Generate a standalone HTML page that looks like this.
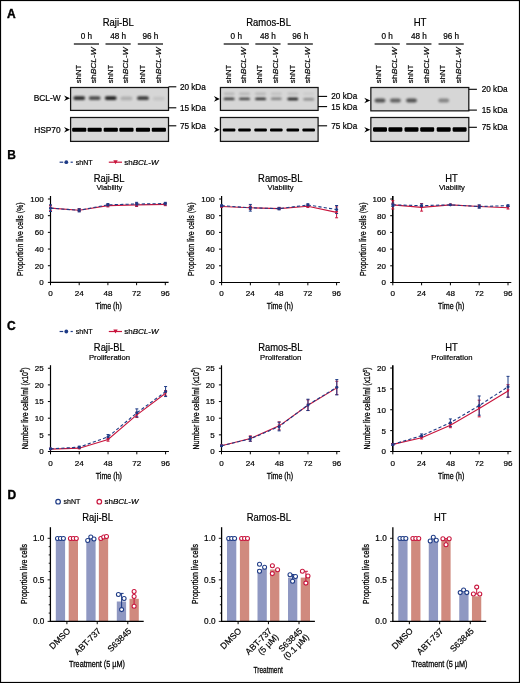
<!DOCTYPE html>
<html><head><meta charset="utf-8"><style>
html,body{margin:0;padding:0;background:#fff;}
body{width:520px;height:683px;position:relative;overflow:hidden;font-family:"Liberation Sans", sans-serif;}
svg text{stroke:#000;stroke-width:0.2px;}
svg text.cd{stroke-width:0.28px;}
svg{filter:blur(0.3px);}
</style></head><body>
<svg width="520" height="683" viewBox="0 0 520 683" style="position:absolute;left:0;top:0">
<defs><filter id="bl" x="-50%" y="-100%" width="200%" height="300%"><feGaussianBlur stdDeviation="0.8"/></filter><filter id="bl2" x="-50%" y="-100%" width="200%" height="300%"><feGaussianBlur stdDeviation="0.6"/></filter></defs>
<g font-family='"Liberation Sans", sans-serif' fill="#000">
<rect x="0.5" y="0.5" width="519" height="682" fill="#fff" stroke="#000" stroke-width="1.2"/>
<text x="7.00" y="17.80" font-size="12" text-anchor="start" font-weight="bold"  style="stroke-width:0.4px">A</text>
<text x="60.70" y="101.10" font-size="8.4" text-anchor="end" font-weight="normal"  style="">BCL-W</text>
<text x="60.70" y="132.50" font-size="8.4" text-anchor="end" font-weight="normal"  style="">HSP70</text>
<text x="118.30" y="25.90" font-size="10.1" text-anchor="middle" font-weight="normal" textLength="31.10" lengthAdjust="spacingAndGlyphs" style="">Raji-BL</text>
<text x="86.45" y="38.60" font-size="8.2" text-anchor="middle" font-weight="normal"  style="">0 h</text>
<line x1="73.85" y1="44.00" x2="99.05" y2="44.00" stroke="#000" stroke-width="1.2" />
<text x="118.10" y="38.60" font-size="8.2" text-anchor="middle" font-weight="normal"  style="">48 h</text>
<line x1="105.50" y1="44.00" x2="130.70" y2="44.00" stroke="#000" stroke-width="1.2" />
<text x="150.40" y="38.60" font-size="8.2" text-anchor="middle" font-weight="normal"  style="">96 h</text>
<line x1="137.80" y1="44.00" x2="163.00" y2="44.00" stroke="#000" stroke-width="1.2" />
<text transform="translate(80.70,83.2) rotate(-90)" font-size="8.1" textLength="18.3" lengthAdjust="spacingAndGlyphs">shNT</text>
<text transform="translate(96.10,83.2) rotate(-90)" font-size="8.1" textLength="36" lengthAdjust="spacingAndGlyphs">sh<tspan font-style="italic">BCL-W</tspan></text>
<text transform="translate(112.50,83.2) rotate(-90)" font-size="8.1" textLength="18.3" lengthAdjust="spacingAndGlyphs">shNT</text>
<text transform="translate(128.00,83.2) rotate(-90)" font-size="8.1" textLength="36" lengthAdjust="spacingAndGlyphs">sh<tspan font-style="italic">BCL-W</tspan></text>
<text transform="translate(144.70,83.2) rotate(-90)" font-size="8.1" textLength="18.3" lengthAdjust="spacingAndGlyphs">shNT</text>
<text transform="translate(160.50,83.2) rotate(-90)" font-size="8.1" textLength="36" lengthAdjust="spacingAndGlyphs">sh<tspan font-style="italic">BCL-W</tspan></text>
<rect x="70.60" y="87.5" width="97.90" height="22.90" fill="#d6d6d6" stroke="#151515" stroke-width="1.25"/>
<rect x="70.60" y="117.5" width="97.90" height="23.9" fill="#d9d9d9" stroke="#151515" stroke-width="1.25"/>
<rect x="73.35" y="96.20" width="11.8" height="3.8" rx="1.9" fill="#000" opacity="0.8" filter="url(#bl)"/>
<rect x="88.75" y="96.20" width="11.8" height="3.8" rx="1.9" fill="#000" opacity="0.65" filter="url(#bl)"/>
<rect x="104.85" y="96.20" width="11.8" height="3.8" rx="1.9" fill="#000" opacity="0.85" filter="url(#bl)"/>
<rect x="120.55" y="96.50" width="11.8" height="3.8" rx="1.9" fill="#000" opacity="0.18" filter="url(#bl)"/>
<rect x="137.05" y="96.30" width="11.8" height="3.8" rx="1.9" fill="#000" opacity="0.72" filter="url(#bl)"/>
<rect x="152.95" y="96.70" width="11.8" height="3.8" rx="1.9" fill="#000" opacity="0.08" filter="url(#bl)"/>
<rect x="72.15" y="127.65" width="14.2" height="4.1" rx="1.1" fill="#000" opacity="1" filter="url(#bl2)"/>
<rect x="87.55" y="127.65" width="14.2" height="4.1" rx="1.1" fill="#000" opacity="1" filter="url(#bl2)"/>
<rect x="103.65" y="127.65" width="14.2" height="4.1" rx="1.1" fill="#000" opacity="1" filter="url(#bl2)"/>
<rect x="119.35" y="127.65" width="14.2" height="4.1" rx="1.1" fill="#000" opacity="1" filter="url(#bl2)"/>
<rect x="135.85" y="127.65" width="14.2" height="4.1" rx="1.1" fill="#000" opacity="1" filter="url(#bl2)"/>
<rect x="151.75" y="127.65" width="14.2" height="4.1" rx="1.1" fill="#000" opacity="1" filter="url(#bl2)"/>
<path d="M64.00,95.40 L70.00,98.20 L64.00,101.00 L66.00,98.20 Z" fill="#000"/>
<path d="M64.00,126.90 L70.00,129.70 L64.00,132.50 L66.00,129.70 Z" fill="#000"/>
<line x1="168.50" y1="86.80" x2="176.30" y2="86.80" stroke="#000" stroke-width="1.1" />
<text x="179.90" y="89.70" font-size="8.2" text-anchor="start" font-weight="normal"  style="">20 kDa</text>
<line x1="168.50" y1="107.80" x2="176.30" y2="107.80" stroke="#000" stroke-width="1.1" />
<text x="179.90" y="110.70" font-size="8.2" text-anchor="start" font-weight="normal"  style="">15 kDa</text>
<line x1="168.50" y1="125.80" x2="176.30" y2="125.80" stroke="#000" stroke-width="1.1" />
<text x="179.90" y="128.70" font-size="8.2" text-anchor="start" font-weight="normal"  style="">75 kDa</text>
<text x="268.60" y="25.90" font-size="10.1" text-anchor="middle" font-weight="normal" textLength="44.60" lengthAdjust="spacingAndGlyphs" style="">Ramos-BL</text>
<text x="236.30" y="38.60" font-size="8.2" text-anchor="middle" font-weight="normal"  style="">0 h</text>
<line x1="223.70" y1="44.00" x2="248.90" y2="44.00" stroke="#000" stroke-width="1.2" />
<text x="267.95" y="38.60" font-size="8.2" text-anchor="middle" font-weight="normal"  style="">48 h</text>
<line x1="255.35" y1="44.00" x2="280.55" y2="44.00" stroke="#000" stroke-width="1.2" />
<text x="300.25" y="38.60" font-size="8.2" text-anchor="middle" font-weight="normal"  style="">96 h</text>
<line x1="287.65" y1="44.00" x2="312.85" y2="44.00" stroke="#000" stroke-width="1.2" />
<text transform="translate(230.55,83.2) rotate(-90)" font-size="8.1" textLength="18.3" lengthAdjust="spacingAndGlyphs">shNT</text>
<text transform="translate(245.95,83.2) rotate(-90)" font-size="8.1" textLength="36" lengthAdjust="spacingAndGlyphs">sh<tspan font-style="italic">BCL-W</tspan></text>
<text transform="translate(262.35,83.2) rotate(-90)" font-size="8.1" textLength="18.3" lengthAdjust="spacingAndGlyphs">shNT</text>
<text transform="translate(277.85,83.2) rotate(-90)" font-size="8.1" textLength="36" lengthAdjust="spacingAndGlyphs">sh<tspan font-style="italic">BCL-W</tspan></text>
<text transform="translate(294.55,83.2) rotate(-90)" font-size="8.1" textLength="18.3" lengthAdjust="spacingAndGlyphs">shNT</text>
<text transform="translate(310.35,83.2) rotate(-90)" font-size="8.1" textLength="36" lengthAdjust="spacingAndGlyphs">sh<tspan font-style="italic">BCL-W</tspan></text>
<rect x="220.45" y="87.5" width="97.65" height="22.90" fill="#d6d6d6" stroke="#151515" stroke-width="1.25"/>
<rect x="220.45" y="117.5" width="97.65" height="23.9" fill="#d9d9d9" stroke="#151515" stroke-width="1.25"/>
<rect x="223.70" y="97.70" width="10.8" height="2.4" rx="1.2" fill="#000" opacity="0.8" filter="url(#bl)"/>
<rect x="239.10" y="97.70" width="10.8" height="2.4" rx="1.2" fill="#000" opacity="0.75" filter="url(#bl)"/>
<rect x="255.20" y="97.70" width="10.8" height="2.4" rx="1.2" fill="#000" opacity="0.85" filter="url(#bl)"/>
<rect x="270.90" y="97.60" width="10.8" height="2.4" rx="1.2" fill="#000" opacity="0.4" filter="url(#bl)"/>
<rect x="287.40" y="97.80" width="10.8" height="2.4" rx="1.2" fill="#000" opacity="0.9" filter="url(#bl)"/>
<rect x="303.30" y="98.00" width="10.8" height="2.4" rx="1.2" fill="#000" opacity="0.35" filter="url(#bl)"/>
<rect x="223.70" y="92.60" width="10.8" height="2.4" rx="1.2" fill="#000" opacity="0.15" filter="url(#bl)"/>
<rect x="239.10" y="92.60" width="10.8" height="2.4" rx="1.2" fill="#000" opacity="0.15" filter="url(#bl)"/>
<rect x="255.20" y="92.60" width="10.8" height="2.4" rx="1.2" fill="#000" opacity="0.15" filter="url(#bl)"/>
<rect x="270.90" y="92.60" width="10.8" height="2.4" rx="1.2" fill="#000" opacity="0.1" filter="url(#bl)"/>
<rect x="287.40" y="92.60" width="10.8" height="2.4" rx="1.2" fill="#000" opacity="0.1" filter="url(#bl)"/>
<rect x="303.30" y="92.60" width="10.8" height="2.4" rx="1.2" fill="#000" opacity="0.05" filter="url(#bl)"/>
<rect x="222.80" y="128.50" width="12.6" height="3.0" rx="1.1" fill="#000" opacity="1" filter="url(#bl2)"/>
<rect x="238.20" y="128.50" width="12.6" height="3.0" rx="1.1" fill="#000" opacity="1" filter="url(#bl2)"/>
<rect x="254.30" y="128.50" width="12.6" height="3.0" rx="1.1" fill="#000" opacity="1" filter="url(#bl2)"/>
<rect x="270.00" y="128.50" width="12.6" height="3.0" rx="1.1" fill="#000" opacity="1" filter="url(#bl2)"/>
<rect x="286.50" y="128.50" width="12.6" height="3.0" rx="1.1" fill="#000" opacity="1" filter="url(#bl2)"/>
<rect x="302.40" y="128.50" width="12.6" height="3.0" rx="1.1" fill="#000" opacity="1" filter="url(#bl2)"/>
<path d="M213.85,96.10 L219.85,98.90 L213.85,101.70 L215.85,98.90 Z" fill="#000"/>
<path d="M213.85,126.90 L219.85,129.70 L213.85,132.50 L215.85,129.70 Z" fill="#000"/>
<line x1="318.10" y1="96.40" x2="327.10" y2="96.40" stroke="#000" stroke-width="1.1" />
<text x="331.30" y="99.30" font-size="8.2" text-anchor="start" font-weight="normal"  style="">20 kDa</text>
<line x1="318.10" y1="106.60" x2="327.10" y2="106.60" stroke="#000" stroke-width="1.1" />
<text x="331.30" y="109.50" font-size="8.2" text-anchor="start" font-weight="normal"  style="">15 kDa</text>
<line x1="318.10" y1="125.80" x2="327.10" y2="125.80" stroke="#000" stroke-width="1.1" />
<text x="331.30" y="128.70" font-size="8.2" text-anchor="start" font-weight="normal"  style="">75 kDa</text>
<text x="420.10" y="25.90" font-size="10.1" text-anchor="middle" font-weight="normal" textLength="12.80" lengthAdjust="spacingAndGlyphs" style="">HT</text>
<text x="387.20" y="38.60" font-size="8.2" text-anchor="middle" font-weight="normal"  style="">0 h</text>
<line x1="374.60" y1="44.00" x2="399.80" y2="44.00" stroke="#000" stroke-width="1.2" />
<text x="418.85" y="38.60" font-size="8.2" text-anchor="middle" font-weight="normal"  style="">48 h</text>
<line x1="406.25" y1="44.00" x2="431.45" y2="44.00" stroke="#000" stroke-width="1.2" />
<text x="451.15" y="38.60" font-size="8.2" text-anchor="middle" font-weight="normal"  style="">96 h</text>
<line x1="438.55" y1="44.00" x2="463.75" y2="44.00" stroke="#000" stroke-width="1.2" />
<text transform="translate(381.45,83.2) rotate(-90)" font-size="8.1" textLength="18.3" lengthAdjust="spacingAndGlyphs">shNT</text>
<text transform="translate(396.85,83.2) rotate(-90)" font-size="8.1" textLength="36" lengthAdjust="spacingAndGlyphs">sh<tspan font-style="italic">BCL-W</tspan></text>
<text transform="translate(413.25,83.2) rotate(-90)" font-size="8.1" textLength="18.3" lengthAdjust="spacingAndGlyphs">shNT</text>
<text transform="translate(428.75,83.2) rotate(-90)" font-size="8.1" textLength="36" lengthAdjust="spacingAndGlyphs">sh<tspan font-style="italic">BCL-W</tspan></text>
<text transform="translate(445.45,83.2) rotate(-90)" font-size="8.1" textLength="18.3" lengthAdjust="spacingAndGlyphs">shNT</text>
<text transform="translate(461.25,83.2) rotate(-90)" font-size="8.1" textLength="36" lengthAdjust="spacingAndGlyphs">sh<tspan font-style="italic">BCL-W</tspan></text>
<rect x="370.85" y="87.5" width="97.95" height="23.35" fill="#d6d6d6" stroke="#151515" stroke-width="1.25"/>
<rect x="370.85" y="117.5" width="97.95" height="23.9" fill="#d9d9d9" stroke="#151515" stroke-width="1.25"/>
<rect x="374.60" y="98.50" width="10.8" height="4.0" rx="2.0" fill="#000" opacity="0.62" filter="url(#bl)"/>
<rect x="390.00" y="98.50" width="10.8" height="4.0" rx="2.0" fill="#000" opacity="0.55" filter="url(#bl)"/>
<rect x="406.10" y="98.50" width="10.8" height="4.0" rx="2.0" fill="#000" opacity="0.62" filter="url(#bl)"/>
<rect x="438.30" y="98.50" width="10.8" height="4.0" rx="2.0" fill="#000" opacity="0.38" filter="url(#bl)"/>
<rect x="373.00" y="127.35" width="14" height="4.3" rx="1.1" fill="#000" opacity="1" filter="url(#bl2)"/>
<rect x="388.40" y="127.35" width="14" height="4.3" rx="1.1" fill="#000" opacity="1" filter="url(#bl2)"/>
<rect x="404.50" y="127.35" width="14" height="4.3" rx="1.1" fill="#000" opacity="1" filter="url(#bl2)"/>
<rect x="420.20" y="127.35" width="14" height="4.3" rx="1.1" fill="#000" opacity="1" filter="url(#bl2)"/>
<rect x="436.70" y="127.35" width="14" height="4.3" rx="1.1" fill="#000" opacity="1" filter="url(#bl2)"/>
<rect x="452.60" y="127.35" width="14" height="4.3" rx="1.1" fill="#000" opacity="1" filter="url(#bl2)"/>
<path d="M364.25,97.70 L370.25,100.50 L364.25,103.30 L366.25,100.50 Z" fill="#000"/>
<path d="M364.25,126.90 L370.25,129.70 L364.25,132.50 L366.25,129.70 Z" fill="#000"/>
<line x1="468.80" y1="89.30" x2="476.90" y2="89.30" stroke="#000" stroke-width="1.1" />
<text x="481.70" y="92.20" font-size="8.2" text-anchor="start" font-weight="normal"  style="">20 kDa</text>
<line x1="468.80" y1="110.10" x2="476.90" y2="110.10" stroke="#000" stroke-width="1.1" />
<text x="481.70" y="113.00" font-size="8.2" text-anchor="start" font-weight="normal"  style="">15 kDa</text>
<line x1="468.80" y1="127.30" x2="476.90" y2="127.30" stroke="#000" stroke-width="1.1" />
<text x="481.70" y="130.20" font-size="8.2" text-anchor="start" font-weight="normal"  style="">75 kDa</text>
<text x="7.20" y="159.20" font-size="12" text-anchor="start" font-weight="bold"  style="stroke-width:0.25px">B</text>
<line x1="59.60" y1="162.20" x2="63.20" y2="162.20" stroke="#1d3a85" stroke-width="1.2" />
<circle cx="66.3" cy="162.2" r="1.9" fill="#1d3a85"/>
<line x1="70.60" y1="162.20" x2="72.80" y2="162.20" stroke="#1d3a85" stroke-width="1.2" />
<text x="75.80" y="164.90" font-size="7.8" text-anchor="start" font-weight="normal" textLength="16.9" lengthAdjust="spacingAndGlyphs" style="">shNT</text>
<line x1="108.80" y1="162.20" x2="122.00" y2="162.20" stroke="#c8143c" stroke-width="1.2" />
<path d="M113.3,160.29999999999998 L117.7,160.29999999999998 L115.5,164.29999999999998 Z" fill="#c8143c"/>
<text x="124.30" y="164.90" font-size="7.8" text-anchor="start" font-weight="normal" textLength="34.2" lengthAdjust="spacingAndGlyphs" style="">sh<tspan font-style="italic">BCL-W</tspan></text>
<text x="7.00" y="330.00" font-size="12" text-anchor="start" font-weight="bold"  style="stroke-width:0.4px">C</text>
<line x1="59.60" y1="331.50" x2="63.20" y2="331.50" stroke="#1d3a85" stroke-width="1.2" />
<circle cx="66.3" cy="331.5" r="1.9" fill="#1d3a85"/>
<line x1="70.60" y1="331.50" x2="72.80" y2="331.50" stroke="#1d3a85" stroke-width="1.2" />
<text x="75.80" y="334.20" font-size="7.8" text-anchor="start" font-weight="normal" textLength="16.9" lengthAdjust="spacingAndGlyphs" style="">shNT</text>
<line x1="108.80" y1="331.50" x2="122.00" y2="331.50" stroke="#c8143c" stroke-width="1.2" />
<path d="M113.3,329.6 L117.7,329.6 L115.5,333.6 Z" fill="#c8143c"/>
<text x="124.30" y="334.20" font-size="7.8" text-anchor="start" font-weight="normal" textLength="34.2" lengthAdjust="spacingAndGlyphs" style="">sh<tspan font-style="italic">BCL-W</tspan></text>
<text x="109.10" y="181.60" font-size="10.3" text-anchor="middle" font-weight="normal" textLength="30.81" lengthAdjust="spacingAndGlyphs" style="">Raji-BL</text>
<text x="109.40" y="190.40" font-size="8.1" text-anchor="middle" font-weight="normal" textLength="26.0" lengthAdjust="spacingAndGlyphs" style="">Viability</text>
<line x1="50.50" y1="196.00" x2="50.50" y2="283.00" stroke="#000" stroke-width="1.2" />
<line x1="49.90" y1="282.40" x2="168.60" y2="282.40" stroke="#000" stroke-width="1.2" />
<line x1="47.90" y1="282.40" x2="50.50" y2="282.40" stroke="#000" stroke-width="1" />
<text x="43.60" y="285.30" font-size="8" text-anchor="end" font-weight="normal"  style="">0</text>
<line x1="47.90" y1="265.72" x2="50.50" y2="265.72" stroke="#000" stroke-width="1" />
<text x="43.60" y="268.62" font-size="8" text-anchor="end" font-weight="normal"  style="">20</text>
<line x1="47.90" y1="249.04" x2="50.50" y2="249.04" stroke="#000" stroke-width="1" />
<text x="43.60" y="251.94" font-size="8" text-anchor="end" font-weight="normal"  style="">40</text>
<line x1="47.90" y1="232.36" x2="50.50" y2="232.36" stroke="#000" stroke-width="1" />
<text x="43.60" y="235.26" font-size="8" text-anchor="end" font-weight="normal"  style="">60</text>
<line x1="47.90" y1="215.68" x2="50.50" y2="215.68" stroke="#000" stroke-width="1" />
<text x="43.60" y="218.58" font-size="8" text-anchor="end" font-weight="normal"  style="">80</text>
<line x1="47.90" y1="199.00" x2="50.50" y2="199.00" stroke="#000" stroke-width="1" />
<text x="43.60" y="201.90" font-size="8" text-anchor="end" font-weight="normal"  style="">100</text>
<line x1="50.50" y1="282.40" x2="50.50" y2="285.20" stroke="#000" stroke-width="1" />
<text x="50.50" y="295.90" font-size="8.1" text-anchor="middle" font-weight="normal"  style="">0</text>
<line x1="79.20" y1="282.40" x2="79.20" y2="285.20" stroke="#000" stroke-width="1" />
<text x="79.20" y="295.90" font-size="8.1" text-anchor="middle" font-weight="normal"  style="">24</text>
<line x1="107.90" y1="282.40" x2="107.90" y2="285.20" stroke="#000" stroke-width="1" />
<text x="107.90" y="295.90" font-size="8.1" text-anchor="middle" font-weight="normal"  style="">48</text>
<line x1="136.60" y1="282.40" x2="136.60" y2="285.20" stroke="#000" stroke-width="1" />
<text x="136.60" y="295.90" font-size="8.1" text-anchor="middle" font-weight="normal"  style="">72</text>
<line x1="165.30" y1="282.40" x2="165.30" y2="285.20" stroke="#000" stroke-width="1" />
<text x="165.30" y="295.90" font-size="8.1" text-anchor="middle" font-weight="normal"  style="">96</text>
<text class="cd" x="108.70" y="309.30" font-size="8.7" text-anchor="middle" textLength="26.2" lengthAdjust="spacingAndGlyphs"  >Time (h)</text>
<text class="cd" transform="translate(23.00,239.20) rotate(-90)" font-size="9.6" text-anchor="middle" textLength="73.7" lengthAdjust="spacingAndGlyphs">Proportion live cells (%)</text>
<line x1="50.50" y1="210.68" x2="50.50" y2="205.67" stroke="#c8143c" stroke-width="1" />
<line x1="49.00" y1="210.68" x2="52.00" y2="210.68" stroke="#c8143c" stroke-width="1" />
<line x1="49.00" y1="205.67" x2="52.00" y2="205.67" stroke="#c8143c" stroke-width="1" />
<line x1="79.20" y1="211.51" x2="79.20" y2="209.01" stroke="#c8143c" stroke-width="1" />
<line x1="77.70" y1="211.51" x2="80.70" y2="211.51" stroke="#c8143c" stroke-width="1" />
<line x1="77.70" y1="209.01" x2="80.70" y2="209.01" stroke="#c8143c" stroke-width="1" />
<line x1="107.90" y1="206.92" x2="107.90" y2="204.42" stroke="#c8143c" stroke-width="1" />
<line x1="106.40" y1="206.92" x2="109.40" y2="206.92" stroke="#c8143c" stroke-width="1" />
<line x1="106.40" y1="204.42" x2="109.40" y2="204.42" stroke="#c8143c" stroke-width="1" />
<line x1="136.60" y1="206.51" x2="136.60" y2="203.17" stroke="#c8143c" stroke-width="1" />
<line x1="135.10" y1="206.51" x2="138.10" y2="206.51" stroke="#c8143c" stroke-width="1" />
<line x1="135.10" y1="203.17" x2="138.10" y2="203.17" stroke="#c8143c" stroke-width="1" />
<line x1="165.30" y1="205.67" x2="165.30" y2="203.17" stroke="#c8143c" stroke-width="1" />
<line x1="163.80" y1="205.67" x2="166.80" y2="205.67" stroke="#c8143c" stroke-width="1" />
<line x1="163.80" y1="203.17" x2="166.80" y2="203.17" stroke="#c8143c" stroke-width="1" />
<line x1="50.50" y1="211.51" x2="50.50" y2="204.84" stroke="#1d3a85" stroke-width="1" />
<line x1="49.00" y1="211.51" x2="52.00" y2="211.51" stroke="#1d3a85" stroke-width="1" />
<line x1="49.00" y1="204.84" x2="52.00" y2="204.84" stroke="#1d3a85" stroke-width="1" />
<line x1="79.20" y1="211.93" x2="79.20" y2="208.59" stroke="#1d3a85" stroke-width="1" />
<line x1="77.70" y1="211.93" x2="80.70" y2="211.93" stroke="#1d3a85" stroke-width="1" />
<line x1="77.70" y1="208.59" x2="80.70" y2="208.59" stroke="#1d3a85" stroke-width="1" />
<line x1="107.90" y1="206.09" x2="107.90" y2="203.59" stroke="#1d3a85" stroke-width="1" />
<line x1="106.40" y1="206.09" x2="109.40" y2="206.09" stroke="#1d3a85" stroke-width="1" />
<line x1="106.40" y1="203.59" x2="109.40" y2="203.59" stroke="#1d3a85" stroke-width="1" />
<line x1="136.60" y1="205.67" x2="136.60" y2="202.34" stroke="#1d3a85" stroke-width="1" />
<line x1="135.10" y1="205.67" x2="138.10" y2="205.67" stroke="#1d3a85" stroke-width="1" />
<line x1="135.10" y1="202.34" x2="138.10" y2="202.34" stroke="#1d3a85" stroke-width="1" />
<line x1="165.30" y1="204.84" x2="165.30" y2="202.34" stroke="#1d3a85" stroke-width="1" />
<line x1="163.80" y1="204.84" x2="166.80" y2="204.84" stroke="#1d3a85" stroke-width="1" />
<line x1="163.80" y1="202.34" x2="166.80" y2="202.34" stroke="#1d3a85" stroke-width="1" />
<polyline points="50.50,208.17 79.20,210.26 107.90,205.67 136.60,204.84 165.30,204.42" fill="none" stroke="#c8143c" stroke-width="1.1"/>
<polyline points="50.50,208.17 79.20,210.26 107.90,204.84 136.60,204.00 165.30,203.59" fill="none" stroke="#1d3a85" stroke-width="1.1" stroke-dasharray="3.2,2.2"/>
<path d="M48.90,206.77 L52.10,206.77 L50.50,209.77 Z" fill="#c8143c"/>
<path d="M77.60,208.86 L80.80,208.86 L79.20,211.86 Z" fill="#c8143c"/>
<path d="M106.30,204.27 L109.50,204.27 L107.90,207.27 Z" fill="#c8143c"/>
<path d="M135.00,203.44 L138.20,203.44 L136.60,206.44 Z" fill="#c8143c"/>
<path d="M163.70,203.02 L166.90,203.02 L165.30,206.02 Z" fill="#c8143c"/>
<circle cx="50.50" cy="208.17" r="1.5" fill="#1d3a85"/>
<circle cx="79.20" cy="210.26" r="1.5" fill="#1d3a85"/>
<circle cx="107.90" cy="204.84" r="1.5" fill="#1d3a85"/>
<circle cx="136.60" cy="204.00" r="1.5" fill="#1d3a85"/>
<circle cx="165.30" cy="203.59" r="1.5" fill="#1d3a85"/>
<text x="280.30" y="181.60" font-size="10.3" text-anchor="middle" font-weight="normal" textLength="44.40" lengthAdjust="spacingAndGlyphs" style="">Ramos-BL</text>
<text x="280.60" y="190.40" font-size="8.1" text-anchor="middle" font-weight="normal" textLength="26.0" lengthAdjust="spacingAndGlyphs" style="">Viability</text>
<line x1="221.60" y1="196.00" x2="221.60" y2="283.10" stroke="#000" stroke-width="1.2" />
<line x1="221.00" y1="282.50" x2="339.90" y2="282.50" stroke="#000" stroke-width="1.2" />
<line x1="219.00" y1="282.50" x2="221.60" y2="282.50" stroke="#000" stroke-width="1" />
<text x="214.70" y="285.40" font-size="8" text-anchor="end" font-weight="normal"  style="">0</text>
<line x1="219.00" y1="265.80" x2="221.60" y2="265.80" stroke="#000" stroke-width="1" />
<text x="214.70" y="268.70" font-size="8" text-anchor="end" font-weight="normal"  style="">20</text>
<line x1="219.00" y1="249.10" x2="221.60" y2="249.10" stroke="#000" stroke-width="1" />
<text x="214.70" y="252.00" font-size="8" text-anchor="end" font-weight="normal"  style="">40</text>
<line x1="219.00" y1="232.40" x2="221.60" y2="232.40" stroke="#000" stroke-width="1" />
<text x="214.70" y="235.30" font-size="8" text-anchor="end" font-weight="normal"  style="">60</text>
<line x1="219.00" y1="215.70" x2="221.60" y2="215.70" stroke="#000" stroke-width="1" />
<text x="214.70" y="218.60" font-size="8" text-anchor="end" font-weight="normal"  style="">80</text>
<line x1="219.00" y1="199.00" x2="221.60" y2="199.00" stroke="#000" stroke-width="1" />
<text x="214.70" y="201.90" font-size="8" text-anchor="end" font-weight="normal"  style="">100</text>
<line x1="221.60" y1="282.50" x2="221.60" y2="285.30" stroke="#000" stroke-width="1" />
<text x="221.60" y="295.90" font-size="8.1" text-anchor="middle" font-weight="normal"  style="">0</text>
<line x1="250.35" y1="282.50" x2="250.35" y2="285.30" stroke="#000" stroke-width="1" />
<text x="250.35" y="295.90" font-size="8.1" text-anchor="middle" font-weight="normal"  style="">24</text>
<line x1="279.10" y1="282.50" x2="279.10" y2="285.30" stroke="#000" stroke-width="1" />
<text x="279.10" y="295.90" font-size="8.1" text-anchor="middle" font-weight="normal"  style="">48</text>
<line x1="307.85" y1="282.50" x2="307.85" y2="285.30" stroke="#000" stroke-width="1" />
<text x="307.85" y="295.90" font-size="8.1" text-anchor="middle" font-weight="normal"  style="">72</text>
<line x1="336.60" y1="282.50" x2="336.60" y2="285.30" stroke="#000" stroke-width="1" />
<text x="336.60" y="295.90" font-size="8.1" text-anchor="middle" font-weight="normal"  style="">96</text>
<text class="cd" x="279.90" y="309.30" font-size="8.7" text-anchor="middle" textLength="26.2" lengthAdjust="spacingAndGlyphs"  >Time (h)</text>
<text class="cd" transform="translate(194.00,239.25) rotate(-90)" font-size="9.6" text-anchor="middle" textLength="73.7" lengthAdjust="spacingAndGlyphs">Proportion live cells (%)</text>
<line x1="221.60" y1="207.35" x2="221.60" y2="205.68" stroke="#c8143c" stroke-width="1" />
<line x1="220.10" y1="207.35" x2="223.10" y2="207.35" stroke="#c8143c" stroke-width="1" />
<line x1="220.10" y1="205.68" x2="223.10" y2="205.68" stroke="#c8143c" stroke-width="1" />
<line x1="250.35" y1="209.44" x2="250.35" y2="206.10" stroke="#c8143c" stroke-width="1" />
<line x1="248.85" y1="209.44" x2="251.85" y2="209.44" stroke="#c8143c" stroke-width="1" />
<line x1="248.85" y1="206.10" x2="251.85" y2="206.10" stroke="#c8143c" stroke-width="1" />
<line x1="279.10" y1="209.44" x2="279.10" y2="207.77" stroke="#c8143c" stroke-width="1" />
<line x1="277.60" y1="209.44" x2="280.60" y2="209.44" stroke="#c8143c" stroke-width="1" />
<line x1="277.60" y1="207.77" x2="280.60" y2="207.77" stroke="#c8143c" stroke-width="1" />
<line x1="307.85" y1="207.52" x2="307.85" y2="205.01" stroke="#c8143c" stroke-width="1" />
<line x1="306.35" y1="207.52" x2="309.35" y2="207.52" stroke="#c8143c" stroke-width="1" />
<line x1="306.35" y1="205.01" x2="309.35" y2="205.01" stroke="#c8143c" stroke-width="1" />
<line x1="336.60" y1="217.79" x2="336.60" y2="206.93" stroke="#c8143c" stroke-width="1" />
<line x1="335.10" y1="217.79" x2="338.10" y2="217.79" stroke="#c8143c" stroke-width="1" />
<line x1="335.10" y1="206.93" x2="338.10" y2="206.93" stroke="#c8143c" stroke-width="1" />
<line x1="221.60" y1="206.51" x2="221.60" y2="204.84" stroke="#1d3a85" stroke-width="1" />
<line x1="220.10" y1="206.51" x2="223.10" y2="206.51" stroke="#1d3a85" stroke-width="1" />
<line x1="220.10" y1="204.84" x2="223.10" y2="204.84" stroke="#1d3a85" stroke-width="1" />
<line x1="250.35" y1="211.11" x2="250.35" y2="204.43" stroke="#1d3a85" stroke-width="1" />
<line x1="248.85" y1="211.11" x2="251.85" y2="211.11" stroke="#1d3a85" stroke-width="1" />
<line x1="248.85" y1="204.43" x2="251.85" y2="204.43" stroke="#1d3a85" stroke-width="1" />
<line x1="279.10" y1="209.86" x2="279.10" y2="207.35" stroke="#1d3a85" stroke-width="1" />
<line x1="277.60" y1="209.86" x2="280.60" y2="209.86" stroke="#1d3a85" stroke-width="1" />
<line x1="277.60" y1="207.35" x2="280.60" y2="207.35" stroke="#1d3a85" stroke-width="1" />
<line x1="307.85" y1="206.26" x2="307.85" y2="203.76" stroke="#1d3a85" stroke-width="1" />
<line x1="306.35" y1="206.26" x2="309.35" y2="206.26" stroke="#1d3a85" stroke-width="1" />
<line x1="306.35" y1="203.76" x2="309.35" y2="203.76" stroke="#1d3a85" stroke-width="1" />
<line x1="336.60" y1="213.53" x2="336.60" y2="205.51" stroke="#1d3a85" stroke-width="1" />
<line x1="335.10" y1="213.53" x2="338.10" y2="213.53" stroke="#1d3a85" stroke-width="1" />
<line x1="335.10" y1="205.51" x2="338.10" y2="205.51" stroke="#1d3a85" stroke-width="1" />
<polyline points="221.60,206.51 250.35,207.77 279.10,208.60 307.85,206.26 336.60,212.36" fill="none" stroke="#c8143c" stroke-width="1.1"/>
<polyline points="221.60,205.68 250.35,207.77 279.10,208.60 307.85,205.01 336.60,209.52" fill="none" stroke="#1d3a85" stroke-width="1.1" stroke-dasharray="3.2,2.2"/>
<path d="M220.00,205.11 L223.20,205.11 L221.60,208.11 Z" fill="#c8143c"/>
<path d="M248.75,206.37 L251.95,206.37 L250.35,209.37 Z" fill="#c8143c"/>
<path d="M277.50,207.20 L280.70,207.20 L279.10,210.20 Z" fill="#c8143c"/>
<path d="M306.25,204.86 L309.45,204.86 L307.85,207.86 Z" fill="#c8143c"/>
<path d="M335.00,210.96 L338.20,210.96 L336.60,213.96 Z" fill="#c8143c"/>
<circle cx="221.60" cy="205.68" r="1.5" fill="#1d3a85"/>
<circle cx="250.35" cy="207.77" r="1.5" fill="#1d3a85"/>
<circle cx="279.10" cy="208.60" r="1.5" fill="#1d3a85"/>
<circle cx="307.85" cy="205.01" r="1.5" fill="#1d3a85"/>
<circle cx="336.60" cy="209.52" r="1.5" fill="#1d3a85"/>
<text x="451.60" y="181.60" font-size="10.3" text-anchor="middle" font-weight="normal" textLength="12.53" lengthAdjust="spacingAndGlyphs" style="">HT</text>
<text x="451.90" y="190.40" font-size="8.1" text-anchor="middle" font-weight="normal" textLength="26.0" lengthAdjust="spacingAndGlyphs" style="">Viability</text>
<line x1="392.80" y1="196.00" x2="392.80" y2="283.10" stroke="#000" stroke-width="1.6" />
<line x1="392.20" y1="282.50" x2="511.30" y2="282.50" stroke="#000" stroke-width="1.2" />
<line x1="390.20" y1="282.50" x2="392.80" y2="282.50" stroke="#000" stroke-width="1" />
<text x="385.90" y="285.40" font-size="8" text-anchor="end" font-weight="normal"  style="">0</text>
<line x1="390.20" y1="265.80" x2="392.80" y2="265.80" stroke="#000" stroke-width="1" />
<text x="385.90" y="268.70" font-size="8" text-anchor="end" font-weight="normal"  style="">20</text>
<line x1="390.20" y1="249.10" x2="392.80" y2="249.10" stroke="#000" stroke-width="1" />
<text x="385.90" y="252.00" font-size="8" text-anchor="end" font-weight="normal"  style="">40</text>
<line x1="390.20" y1="232.40" x2="392.80" y2="232.40" stroke="#000" stroke-width="1" />
<text x="385.90" y="235.30" font-size="8" text-anchor="end" font-weight="normal"  style="">60</text>
<line x1="390.20" y1="215.70" x2="392.80" y2="215.70" stroke="#000" stroke-width="1" />
<text x="385.90" y="218.60" font-size="8" text-anchor="end" font-weight="normal"  style="">80</text>
<line x1="390.20" y1="199.00" x2="392.80" y2="199.00" stroke="#000" stroke-width="1" />
<text x="385.90" y="201.90" font-size="8" text-anchor="end" font-weight="normal"  style="">100</text>
<line x1="392.80" y1="282.50" x2="392.80" y2="285.30" stroke="#000" stroke-width="1" />
<text x="392.80" y="295.90" font-size="8.1" text-anchor="middle" font-weight="normal"  style="">0</text>
<line x1="421.60" y1="282.50" x2="421.60" y2="285.30" stroke="#000" stroke-width="1" />
<text x="421.60" y="295.90" font-size="8.1" text-anchor="middle" font-weight="normal"  style="">24</text>
<line x1="450.40" y1="282.50" x2="450.40" y2="285.30" stroke="#000" stroke-width="1" />
<text x="450.40" y="295.90" font-size="8.1" text-anchor="middle" font-weight="normal"  style="">48</text>
<line x1="479.20" y1="282.50" x2="479.20" y2="285.30" stroke="#000" stroke-width="1" />
<text x="479.20" y="295.90" font-size="8.1" text-anchor="middle" font-weight="normal"  style="">72</text>
<line x1="508.00" y1="282.50" x2="508.00" y2="285.30" stroke="#000" stroke-width="1" />
<text x="508.00" y="295.90" font-size="8.1" text-anchor="middle" font-weight="normal"  style="">96</text>
<text class="cd" x="451.20" y="309.30" font-size="8.7" text-anchor="middle" textLength="26.2" lengthAdjust="spacingAndGlyphs"  >Time (h)</text>
<text class="cd" transform="translate(365.50,239.25) rotate(-90)" font-size="9.6" text-anchor="middle" textLength="73.7" lengthAdjust="spacingAndGlyphs">Proportion live cells (%)</text>
<line x1="392.80" y1="209.02" x2="392.80" y2="200.67" stroke="#c8143c" stroke-width="1" />
<line x1="391.30" y1="209.02" x2="394.30" y2="209.02" stroke="#c8143c" stroke-width="1" />
<line x1="391.30" y1="200.67" x2="394.30" y2="200.67" stroke="#c8143c" stroke-width="1" />
<line x1="421.60" y1="211.11" x2="421.60" y2="203.59" stroke="#c8143c" stroke-width="1" />
<line x1="420.10" y1="211.11" x2="423.10" y2="211.11" stroke="#c8143c" stroke-width="1" />
<line x1="420.10" y1="203.59" x2="423.10" y2="203.59" stroke="#c8143c" stroke-width="1" />
<line x1="450.40" y1="205.26" x2="450.40" y2="204.43" stroke="#c8143c" stroke-width="1" />
<line x1="448.90" y1="205.26" x2="451.90" y2="205.26" stroke="#c8143c" stroke-width="1" />
<line x1="448.90" y1="204.43" x2="451.90" y2="204.43" stroke="#c8143c" stroke-width="1" />
<line x1="479.20" y1="207.77" x2="479.20" y2="205.26" stroke="#c8143c" stroke-width="1" />
<line x1="477.70" y1="207.77" x2="480.70" y2="207.77" stroke="#c8143c" stroke-width="1" />
<line x1="477.70" y1="205.26" x2="480.70" y2="205.26" stroke="#c8143c" stroke-width="1" />
<line x1="508.00" y1="209.02" x2="508.00" y2="206.51" stroke="#c8143c" stroke-width="1" />
<line x1="506.50" y1="209.02" x2="509.50" y2="209.02" stroke="#c8143c" stroke-width="1" />
<line x1="506.50" y1="206.51" x2="509.50" y2="206.51" stroke="#c8143c" stroke-width="1" />
<line x1="392.80" y1="206.51" x2="392.80" y2="203.18" stroke="#1d3a85" stroke-width="1" />
<line x1="391.30" y1="206.51" x2="394.30" y2="206.51" stroke="#1d3a85" stroke-width="1" />
<line x1="391.30" y1="203.18" x2="394.30" y2="203.18" stroke="#1d3a85" stroke-width="1" />
<line x1="421.60" y1="207.35" x2="421.60" y2="204.01" stroke="#1d3a85" stroke-width="1" />
<line x1="420.10" y1="207.35" x2="423.10" y2="207.35" stroke="#1d3a85" stroke-width="1" />
<line x1="420.10" y1="204.01" x2="423.10" y2="204.01" stroke="#1d3a85" stroke-width="1" />
<line x1="450.40" y1="205.26" x2="450.40" y2="204.43" stroke="#1d3a85" stroke-width="1" />
<line x1="448.90" y1="205.26" x2="451.90" y2="205.26" stroke="#1d3a85" stroke-width="1" />
<line x1="448.90" y1="204.43" x2="451.90" y2="204.43" stroke="#1d3a85" stroke-width="1" />
<line x1="479.20" y1="208.19" x2="479.20" y2="204.84" stroke="#1d3a85" stroke-width="1" />
<line x1="477.70" y1="208.19" x2="480.70" y2="208.19" stroke="#1d3a85" stroke-width="1" />
<line x1="477.70" y1="204.84" x2="480.70" y2="204.84" stroke="#1d3a85" stroke-width="1" />
<line x1="508.00" y1="206.51" x2="508.00" y2="204.84" stroke="#1d3a85" stroke-width="1" />
<line x1="506.50" y1="206.51" x2="509.50" y2="206.51" stroke="#1d3a85" stroke-width="1" />
<line x1="506.50" y1="204.84" x2="509.50" y2="204.84" stroke="#1d3a85" stroke-width="1" />
<polyline points="392.80,204.84 421.60,207.35 450.40,204.84 479.20,206.51 508.00,207.77" fill="none" stroke="#c8143c" stroke-width="1.1"/>
<polyline points="392.80,204.84 421.60,205.68 450.40,204.84 479.20,206.51 508.00,205.68" fill="none" stroke="#1d3a85" stroke-width="1.1" stroke-dasharray="3.2,2.2"/>
<path d="M391.20,203.44 L394.40,203.44 L392.80,206.44 Z" fill="#c8143c"/>
<path d="M420.00,205.95 L423.20,205.95 L421.60,208.95 Z" fill="#c8143c"/>
<path d="M448.80,203.44 L452.00,203.44 L450.40,206.44 Z" fill="#c8143c"/>
<path d="M477.60,205.11 L480.80,205.11 L479.20,208.11 Z" fill="#c8143c"/>
<path d="M506.40,206.37 L509.60,206.37 L508.00,209.37 Z" fill="#c8143c"/>
<circle cx="392.80" cy="204.84" r="1.5" fill="#1d3a85"/>
<circle cx="421.60" cy="205.68" r="1.5" fill="#1d3a85"/>
<circle cx="450.40" cy="204.84" r="1.5" fill="#1d3a85"/>
<circle cx="479.20" cy="206.51" r="1.5" fill="#1d3a85"/>
<circle cx="508.00" cy="205.68" r="1.5" fill="#1d3a85"/>
<text x="109.25" y="350.80" font-size="10.3" text-anchor="middle" font-weight="normal" textLength="30.81" lengthAdjust="spacingAndGlyphs" style="">Raji-BL</text>
<text x="109.55" y="359.60" font-size="8.1" text-anchor="middle" font-weight="normal" textLength="41.3" lengthAdjust="spacingAndGlyphs" style="">Proliferation</text>
<line x1="50.50" y1="365.20" x2="50.50" y2="452.10" stroke="#000" stroke-width="1.2" />
<line x1="49.90" y1="451.50" x2="168.90" y2="451.50" stroke="#000" stroke-width="1.2" />
<line x1="47.90" y1="451.50" x2="50.50" y2="451.50" stroke="#000" stroke-width="1" />
<text x="43.60" y="454.40" font-size="8" text-anchor="end" font-weight="normal"  style="">0</text>
<line x1="47.90" y1="434.85" x2="50.50" y2="434.85" stroke="#000" stroke-width="1" />
<text x="43.60" y="437.75" font-size="8" text-anchor="end" font-weight="normal"  style="">5</text>
<line x1="47.90" y1="418.20" x2="50.50" y2="418.20" stroke="#000" stroke-width="1" />
<text x="43.60" y="421.10" font-size="8" text-anchor="end" font-weight="normal"  style="">10</text>
<line x1="47.90" y1="401.55" x2="50.50" y2="401.55" stroke="#000" stroke-width="1" />
<text x="43.60" y="404.45" font-size="8" text-anchor="end" font-weight="normal"  style="">15</text>
<line x1="47.90" y1="384.90" x2="50.50" y2="384.90" stroke="#000" stroke-width="1" />
<text x="43.60" y="387.80" font-size="8" text-anchor="end" font-weight="normal"  style="">20</text>
<line x1="47.90" y1="368.25" x2="50.50" y2="368.25" stroke="#000" stroke-width="1" />
<text x="43.60" y="371.15" font-size="8" text-anchor="end" font-weight="normal"  style="">25</text>
<line x1="50.50" y1="451.50" x2="50.50" y2="454.30" stroke="#000" stroke-width="1" />
<text x="50.50" y="465.60" font-size="8.1" text-anchor="middle" font-weight="normal"  style="">0</text>
<line x1="79.28" y1="451.50" x2="79.28" y2="454.30" stroke="#000" stroke-width="1" />
<text x="79.28" y="465.60" font-size="8.1" text-anchor="middle" font-weight="normal"  style="">24</text>
<line x1="108.05" y1="451.50" x2="108.05" y2="454.30" stroke="#000" stroke-width="1" />
<text x="108.05" y="465.60" font-size="8.1" text-anchor="middle" font-weight="normal"  style="">48</text>
<line x1="136.82" y1="451.50" x2="136.82" y2="454.30" stroke="#000" stroke-width="1" />
<text x="136.82" y="465.60" font-size="8.1" text-anchor="middle" font-weight="normal"  style="">72</text>
<line x1="165.60" y1="451.50" x2="165.60" y2="454.30" stroke="#000" stroke-width="1" />
<text x="165.60" y="465.60" font-size="8.1" text-anchor="middle" font-weight="normal"  style="">96</text>
<text class="cd" x="108.85" y="478.80" font-size="8.7" text-anchor="middle" textLength="26.2" lengthAdjust="spacingAndGlyphs"  >Time (h)</text>
<text class="cd" transform="translate(27.80,408.35) rotate(-90)" font-size="9.6" text-anchor="middle" textLength="82" lengthAdjust="spacingAndGlyphs">Number live cells/ml (x10<tspan font-size="6.2" dy="-3.6">5</tspan><tspan dy="3.6">)</tspan></text>
<line x1="50.50" y1="449.50" x2="50.50" y2="448.84" stroke="#c8143c" stroke-width="1" />
<line x1="49.00" y1="449.50" x2="52.00" y2="449.50" stroke="#c8143c" stroke-width="1" />
<line x1="49.00" y1="448.84" x2="52.00" y2="448.84" stroke="#c8143c" stroke-width="1" />
<line x1="79.28" y1="448.84" x2="79.28" y2="447.50" stroke="#c8143c" stroke-width="1" />
<line x1="77.78" y1="448.84" x2="80.78" y2="448.84" stroke="#c8143c" stroke-width="1" />
<line x1="77.78" y1="447.50" x2="80.78" y2="447.50" stroke="#c8143c" stroke-width="1" />
<line x1="108.05" y1="441.18" x2="108.05" y2="437.85" stroke="#c8143c" stroke-width="1" />
<line x1="106.55" y1="441.18" x2="109.55" y2="441.18" stroke="#c8143c" stroke-width="1" />
<line x1="106.55" y1="437.85" x2="109.55" y2="437.85" stroke="#c8143c" stroke-width="1" />
<line x1="136.82" y1="417.53" x2="136.82" y2="412.21" stroke="#c8143c" stroke-width="1" />
<line x1="135.32" y1="417.53" x2="138.32" y2="417.53" stroke="#c8143c" stroke-width="1" />
<line x1="135.32" y1="412.21" x2="138.32" y2="412.21" stroke="#c8143c" stroke-width="1" />
<line x1="165.60" y1="395.89" x2="165.60" y2="390.56" stroke="#c8143c" stroke-width="1" />
<line x1="164.10" y1="395.89" x2="167.10" y2="395.89" stroke="#c8143c" stroke-width="1" />
<line x1="164.10" y1="390.56" x2="167.10" y2="390.56" stroke="#c8143c" stroke-width="1" />
<line x1="50.50" y1="449.50" x2="50.50" y2="448.17" stroke="#1d3a85" stroke-width="1" />
<line x1="49.00" y1="449.50" x2="52.00" y2="449.50" stroke="#1d3a85" stroke-width="1" />
<line x1="49.00" y1="448.17" x2="52.00" y2="448.17" stroke="#1d3a85" stroke-width="1" />
<line x1="79.28" y1="448.17" x2="79.28" y2="446.17" stroke="#1d3a85" stroke-width="1" />
<line x1="77.78" y1="448.17" x2="80.78" y2="448.17" stroke="#1d3a85" stroke-width="1" />
<line x1="77.78" y1="446.17" x2="80.78" y2="446.17" stroke="#1d3a85" stroke-width="1" />
<line x1="108.05" y1="439.18" x2="108.05" y2="434.52" stroke="#1d3a85" stroke-width="1" />
<line x1="106.55" y1="439.18" x2="109.55" y2="439.18" stroke="#1d3a85" stroke-width="1" />
<line x1="106.55" y1="434.52" x2="109.55" y2="434.52" stroke="#1d3a85" stroke-width="1" />
<line x1="136.82" y1="416.87" x2="136.82" y2="408.88" stroke="#1d3a85" stroke-width="1" />
<line x1="135.32" y1="416.87" x2="138.32" y2="416.87" stroke="#1d3a85" stroke-width="1" />
<line x1="135.32" y1="408.88" x2="138.32" y2="408.88" stroke="#1d3a85" stroke-width="1" />
<line x1="165.60" y1="396.56" x2="165.60" y2="386.56" stroke="#1d3a85" stroke-width="1" />
<line x1="164.10" y1="396.56" x2="167.10" y2="396.56" stroke="#1d3a85" stroke-width="1" />
<line x1="164.10" y1="386.56" x2="167.10" y2="386.56" stroke="#1d3a85" stroke-width="1" />
<polyline points="50.50,449.17 79.28,448.17 108.05,439.51 136.82,414.87 165.60,393.23" fill="none" stroke="#c8143c" stroke-width="1.1"/>
<polyline points="50.50,448.84 79.28,447.17 108.05,436.85 136.82,412.87 165.60,391.56" fill="none" stroke="#1d3a85" stroke-width="1.1" stroke-dasharray="3.2,2.2"/>
<path d="M48.90,447.77 L52.10,447.77 L50.50,450.77 Z" fill="#c8143c"/>
<path d="M77.68,446.77 L80.88,446.77 L79.28,449.77 Z" fill="#c8143c"/>
<path d="M106.45,438.11 L109.65,438.11 L108.05,441.11 Z" fill="#c8143c"/>
<path d="M135.22,413.47 L138.42,413.47 L136.82,416.47 Z" fill="#c8143c"/>
<path d="M164.00,391.83 L167.20,391.83 L165.60,394.83 Z" fill="#c8143c"/>
<circle cx="50.50" cy="448.84" r="1.5" fill="#1d3a85"/>
<circle cx="79.28" cy="447.17" r="1.5" fill="#1d3a85"/>
<circle cx="108.05" cy="436.85" r="1.5" fill="#1d3a85"/>
<circle cx="136.82" cy="412.87" r="1.5" fill="#1d3a85"/>
<circle cx="165.60" cy="391.56" r="1.5" fill="#1d3a85"/>
<text x="280.35" y="350.80" font-size="10.3" text-anchor="middle" font-weight="normal" textLength="44.40" lengthAdjust="spacingAndGlyphs" style="">Ramos-BL</text>
<text x="280.65" y="359.60" font-size="8.1" text-anchor="middle" font-weight="normal" textLength="41.3" lengthAdjust="spacingAndGlyphs" style="">Proliferation</text>
<line x1="221.50" y1="365.30" x2="221.50" y2="452.10" stroke="#000" stroke-width="1.2" />
<line x1="220.90" y1="451.50" x2="340.10" y2="451.50" stroke="#000" stroke-width="1.2" />
<line x1="218.90" y1="451.50" x2="221.50" y2="451.50" stroke="#000" stroke-width="1" />
<text x="214.60" y="454.40" font-size="8" text-anchor="end" font-weight="normal"  style="">0</text>
<line x1="218.90" y1="434.85" x2="221.50" y2="434.85" stroke="#000" stroke-width="1" />
<text x="214.60" y="437.75" font-size="8" text-anchor="end" font-weight="normal"  style="">5</text>
<line x1="218.90" y1="418.20" x2="221.50" y2="418.20" stroke="#000" stroke-width="1" />
<text x="214.60" y="421.10" font-size="8" text-anchor="end" font-weight="normal"  style="">10</text>
<line x1="218.90" y1="401.55" x2="221.50" y2="401.55" stroke="#000" stroke-width="1" />
<text x="214.60" y="404.45" font-size="8" text-anchor="end" font-weight="normal"  style="">15</text>
<line x1="218.90" y1="384.90" x2="221.50" y2="384.90" stroke="#000" stroke-width="1" />
<text x="214.60" y="387.80" font-size="8" text-anchor="end" font-weight="normal"  style="">20</text>
<line x1="218.90" y1="368.25" x2="221.50" y2="368.25" stroke="#000" stroke-width="1" />
<text x="214.60" y="371.15" font-size="8" text-anchor="end" font-weight="normal"  style="">25</text>
<line x1="221.50" y1="451.50" x2="221.50" y2="454.30" stroke="#000" stroke-width="1" />
<text x="221.50" y="465.60" font-size="8.1" text-anchor="middle" font-weight="normal"  style="">0</text>
<line x1="250.32" y1="451.50" x2="250.32" y2="454.30" stroke="#000" stroke-width="1" />
<text x="250.32" y="465.60" font-size="8.1" text-anchor="middle" font-weight="normal"  style="">24</text>
<line x1="279.15" y1="451.50" x2="279.15" y2="454.30" stroke="#000" stroke-width="1" />
<text x="279.15" y="465.60" font-size="8.1" text-anchor="middle" font-weight="normal"  style="">48</text>
<line x1="307.98" y1="451.50" x2="307.98" y2="454.30" stroke="#000" stroke-width="1" />
<text x="307.98" y="465.60" font-size="8.1" text-anchor="middle" font-weight="normal"  style="">72</text>
<line x1="336.80" y1="451.50" x2="336.80" y2="454.30" stroke="#000" stroke-width="1" />
<text x="336.80" y="465.60" font-size="8.1" text-anchor="middle" font-weight="normal"  style="">96</text>
<text class="cd" x="279.95" y="478.80" font-size="8.7" text-anchor="middle" textLength="26.2" lengthAdjust="spacingAndGlyphs"  >Time (h)</text>
<text class="cd" transform="translate(199.00,408.40) rotate(-90)" font-size="9.6" text-anchor="middle" textLength="82" lengthAdjust="spacingAndGlyphs">Number live cells/ml (x10<tspan font-size="6.2" dy="-3.6">5</tspan><tspan dy="3.6">)</tspan></text>
<line x1="221.50" y1="446.50" x2="221.50" y2="445.17" stroke="#c8143c" stroke-width="1" />
<line x1="220.00" y1="446.50" x2="223.00" y2="446.50" stroke="#c8143c" stroke-width="1" />
<line x1="220.00" y1="445.17" x2="223.00" y2="445.17" stroke="#c8143c" stroke-width="1" />
<line x1="250.32" y1="441.18" x2="250.32" y2="435.85" stroke="#c8143c" stroke-width="1" />
<line x1="248.82" y1="441.18" x2="251.82" y2="441.18" stroke="#c8143c" stroke-width="1" />
<line x1="248.82" y1="435.85" x2="251.82" y2="435.85" stroke="#c8143c" stroke-width="1" />
<line x1="279.15" y1="429.86" x2="279.15" y2="421.86" stroke="#c8143c" stroke-width="1" />
<line x1="277.65" y1="429.86" x2="280.65" y2="429.86" stroke="#c8143c" stroke-width="1" />
<line x1="277.65" y1="421.86" x2="280.65" y2="421.86" stroke="#c8143c" stroke-width="1" />
<line x1="307.98" y1="410.54" x2="307.98" y2="399.88" stroke="#c8143c" stroke-width="1" />
<line x1="306.48" y1="410.54" x2="309.48" y2="410.54" stroke="#c8143c" stroke-width="1" />
<line x1="306.48" y1="399.88" x2="309.48" y2="399.88" stroke="#c8143c" stroke-width="1" />
<line x1="336.80" y1="394.56" x2="336.80" y2="381.24" stroke="#c8143c" stroke-width="1" />
<line x1="335.30" y1="394.56" x2="338.30" y2="394.56" stroke="#c8143c" stroke-width="1" />
<line x1="335.30" y1="381.24" x2="338.30" y2="381.24" stroke="#c8143c" stroke-width="1" />
<line x1="221.50" y1="446.50" x2="221.50" y2="445.17" stroke="#1d3a85" stroke-width="1" />
<line x1="220.00" y1="446.50" x2="223.00" y2="446.50" stroke="#1d3a85" stroke-width="1" />
<line x1="220.00" y1="445.17" x2="223.00" y2="445.17" stroke="#1d3a85" stroke-width="1" />
<line x1="250.32" y1="441.18" x2="250.32" y2="436.51" stroke="#1d3a85" stroke-width="1" />
<line x1="248.82" y1="441.18" x2="251.82" y2="441.18" stroke="#1d3a85" stroke-width="1" />
<line x1="248.82" y1="436.51" x2="251.82" y2="436.51" stroke="#1d3a85" stroke-width="1" />
<line x1="279.15" y1="430.85" x2="279.15" y2="422.20" stroke="#1d3a85" stroke-width="1" />
<line x1="277.65" y1="430.85" x2="280.65" y2="430.85" stroke="#1d3a85" stroke-width="1" />
<line x1="277.65" y1="422.20" x2="280.65" y2="422.20" stroke="#1d3a85" stroke-width="1" />
<line x1="307.98" y1="410.54" x2="307.98" y2="399.22" stroke="#1d3a85" stroke-width="1" />
<line x1="306.48" y1="410.54" x2="309.48" y2="410.54" stroke="#1d3a85" stroke-width="1" />
<line x1="306.48" y1="399.22" x2="309.48" y2="399.22" stroke="#1d3a85" stroke-width="1" />
<line x1="336.80" y1="394.89" x2="336.80" y2="379.57" stroke="#1d3a85" stroke-width="1" />
<line x1="335.30" y1="394.89" x2="338.30" y2="394.89" stroke="#1d3a85" stroke-width="1" />
<line x1="335.30" y1="379.57" x2="338.30" y2="379.57" stroke="#1d3a85" stroke-width="1" />
<polyline points="221.50,445.84 250.32,438.51 279.15,425.86 307.98,405.21 336.80,387.90" fill="none" stroke="#c8143c" stroke-width="1.1"/>
<polyline points="221.50,445.84 250.32,438.85 279.15,426.52 307.98,404.88 336.80,387.23" fill="none" stroke="#1d3a85" stroke-width="1.1" stroke-dasharray="3.2,2.2"/>
<path d="M219.90,444.44 L223.10,444.44 L221.50,447.44 Z" fill="#c8143c"/>
<path d="M248.72,437.11 L251.92,437.11 L250.32,440.11 Z" fill="#c8143c"/>
<path d="M277.55,424.46 L280.75,424.46 L279.15,427.46 Z" fill="#c8143c"/>
<path d="M306.38,403.81 L309.58,403.81 L307.98,406.81 Z" fill="#c8143c"/>
<path d="M335.20,386.50 L338.40,386.50 L336.80,389.50 Z" fill="#c8143c"/>
<circle cx="221.50" cy="445.84" r="1.5" fill="#1d3a85"/>
<circle cx="250.32" cy="438.85" r="1.5" fill="#1d3a85"/>
<circle cx="279.15" cy="426.52" r="1.5" fill="#1d3a85"/>
<circle cx="307.98" cy="404.88" r="1.5" fill="#1d3a85"/>
<circle cx="336.80" cy="387.23" r="1.5" fill="#1d3a85"/>
<text x="451.60" y="350.80" font-size="10.3" text-anchor="middle" font-weight="normal" textLength="12.53" lengthAdjust="spacingAndGlyphs" style="">HT</text>
<text x="451.90" y="359.60" font-size="8.1" text-anchor="middle" font-weight="normal" textLength="41.3" lengthAdjust="spacingAndGlyphs" style="">Proliferation</text>
<line x1="392.80" y1="365.30" x2="392.80" y2="452.10" stroke="#000" stroke-width="1.6" />
<line x1="392.20" y1="451.50" x2="511.30" y2="451.50" stroke="#000" stroke-width="1.2" />
<line x1="390.20" y1="451.50" x2="392.80" y2="451.50" stroke="#000" stroke-width="1" />
<text x="385.90" y="454.40" font-size="8" text-anchor="end" font-weight="normal"  style="">0</text>
<line x1="390.20" y1="430.62" x2="392.80" y2="430.62" stroke="#000" stroke-width="1" />
<text x="385.90" y="433.52" font-size="8" text-anchor="end" font-weight="normal"  style="">5</text>
<line x1="390.20" y1="409.75" x2="392.80" y2="409.75" stroke="#000" stroke-width="1" />
<text x="385.90" y="412.65" font-size="8" text-anchor="end" font-weight="normal"  style="">10</text>
<line x1="390.20" y1="388.88" x2="392.80" y2="388.88" stroke="#000" stroke-width="1" />
<text x="385.90" y="391.77" font-size="8" text-anchor="end" font-weight="normal"  style="">15</text>
<line x1="390.20" y1="368.00" x2="392.80" y2="368.00" stroke="#000" stroke-width="1" />
<text x="385.90" y="370.90" font-size="8" text-anchor="end" font-weight="normal"  style="">20</text>
<line x1="392.80" y1="451.50" x2="392.80" y2="454.30" stroke="#000" stroke-width="1" />
<text x="392.80" y="465.60" font-size="8.1" text-anchor="middle" font-weight="normal"  style="">0</text>
<line x1="421.60" y1="451.50" x2="421.60" y2="454.30" stroke="#000" stroke-width="1" />
<text x="421.60" y="465.60" font-size="8.1" text-anchor="middle" font-weight="normal"  style="">24</text>
<line x1="450.40" y1="451.50" x2="450.40" y2="454.30" stroke="#000" stroke-width="1" />
<text x="450.40" y="465.60" font-size="8.1" text-anchor="middle" font-weight="normal"  style="">48</text>
<line x1="479.20" y1="451.50" x2="479.20" y2="454.30" stroke="#000" stroke-width="1" />
<text x="479.20" y="465.60" font-size="8.1" text-anchor="middle" font-weight="normal"  style="">72</text>
<line x1="508.00" y1="451.50" x2="508.00" y2="454.30" stroke="#000" stroke-width="1" />
<text x="508.00" y="465.60" font-size="8.1" text-anchor="middle" font-weight="normal"  style="">96</text>
<text class="cd" x="451.20" y="478.80" font-size="8.7" text-anchor="middle" textLength="26.2" lengthAdjust="spacingAndGlyphs"  >Time (h)</text>
<text class="cd" transform="translate(370.30,408.40) rotate(-90)" font-size="9.6" text-anchor="middle" textLength="82" lengthAdjust="spacingAndGlyphs">Number live cells/ml (x10<tspan font-size="6.2" dy="-3.6">5</tspan><tspan dy="3.6">)</tspan></text>
<line x1="392.80" y1="445.24" x2="392.80" y2="443.57" stroke="#c8143c" stroke-width="1" />
<line x1="391.30" y1="445.24" x2="394.30" y2="445.24" stroke="#c8143c" stroke-width="1" />
<line x1="391.30" y1="443.57" x2="394.30" y2="443.57" stroke="#c8143c" stroke-width="1" />
<line x1="421.60" y1="438.98" x2="421.60" y2="436.47" stroke="#c8143c" stroke-width="1" />
<line x1="420.10" y1="438.98" x2="423.10" y2="438.98" stroke="#c8143c" stroke-width="1" />
<line x1="420.10" y1="436.47" x2="423.10" y2="436.47" stroke="#c8143c" stroke-width="1" />
<line x1="450.40" y1="427.70" x2="450.40" y2="422.69" stroke="#c8143c" stroke-width="1" />
<line x1="448.90" y1="427.70" x2="451.90" y2="427.70" stroke="#c8143c" stroke-width="1" />
<line x1="448.90" y1="422.69" x2="451.90" y2="422.69" stroke="#c8143c" stroke-width="1" />
<line x1="479.20" y1="416.85" x2="479.20" y2="400.15" stroke="#c8143c" stroke-width="1" />
<line x1="477.70" y1="416.85" x2="480.70" y2="416.85" stroke="#c8143c" stroke-width="1" />
<line x1="477.70" y1="400.15" x2="480.70" y2="400.15" stroke="#c8143c" stroke-width="1" />
<line x1="508.00" y1="397.23" x2="508.00" y2="384.70" stroke="#c8143c" stroke-width="1" />
<line x1="506.50" y1="397.23" x2="509.50" y2="397.23" stroke="#c8143c" stroke-width="1" />
<line x1="506.50" y1="384.70" x2="509.50" y2="384.70" stroke="#c8143c" stroke-width="1" />
<line x1="392.80" y1="445.24" x2="392.80" y2="443.57" stroke="#1d3a85" stroke-width="1" />
<line x1="391.30" y1="445.24" x2="394.30" y2="445.24" stroke="#1d3a85" stroke-width="1" />
<line x1="391.30" y1="443.57" x2="394.30" y2="443.57" stroke="#1d3a85" stroke-width="1" />
<line x1="421.60" y1="437.31" x2="421.60" y2="433.96" stroke="#1d3a85" stroke-width="1" />
<line x1="420.10" y1="437.31" x2="423.10" y2="437.31" stroke="#1d3a85" stroke-width="1" />
<line x1="420.10" y1="433.96" x2="423.10" y2="433.96" stroke="#1d3a85" stroke-width="1" />
<line x1="450.40" y1="426.45" x2="450.40" y2="418.94" stroke="#1d3a85" stroke-width="1" />
<line x1="448.90" y1="426.45" x2="451.90" y2="426.45" stroke="#1d3a85" stroke-width="1" />
<line x1="448.90" y1="418.94" x2="451.90" y2="418.94" stroke="#1d3a85" stroke-width="1" />
<line x1="479.20" y1="415.18" x2="479.20" y2="395.97" stroke="#1d3a85" stroke-width="1" />
<line x1="477.70" y1="415.18" x2="480.70" y2="415.18" stroke="#1d3a85" stroke-width="1" />
<line x1="477.70" y1="395.97" x2="480.70" y2="395.97" stroke="#1d3a85" stroke-width="1" />
<line x1="508.00" y1="397.23" x2="508.00" y2="376.35" stroke="#1d3a85" stroke-width="1" />
<line x1="506.50" y1="397.23" x2="509.50" y2="397.23" stroke="#1d3a85" stroke-width="1" />
<line x1="506.50" y1="376.35" x2="509.50" y2="376.35" stroke="#1d3a85" stroke-width="1" />
<polyline points="392.80,444.40 421.60,437.72 450.40,425.20 479.20,408.50 508.00,390.96" fill="none" stroke="#c8143c" stroke-width="1.1"/>
<polyline points="392.80,444.40 421.60,435.63 450.40,422.69 479.20,405.57 508.00,386.79" fill="none" stroke="#1d3a85" stroke-width="1.1" stroke-dasharray="3.2,2.2"/>
<path d="M391.20,443.00 L394.40,443.00 L392.80,446.00 Z" fill="#c8143c"/>
<path d="M420.00,436.32 L423.20,436.32 L421.60,439.32 Z" fill="#c8143c"/>
<path d="M448.80,423.80 L452.00,423.80 L450.40,426.80 Z" fill="#c8143c"/>
<path d="M477.60,407.10 L480.80,407.10 L479.20,410.10 Z" fill="#c8143c"/>
<path d="M506.40,389.56 L509.60,389.56 L508.00,392.56 Z" fill="#c8143c"/>
<circle cx="392.80" cy="444.40" r="1.5" fill="#1d3a85"/>
<circle cx="421.60" cy="435.63" r="1.5" fill="#1d3a85"/>
<circle cx="450.40" cy="422.69" r="1.5" fill="#1d3a85"/>
<circle cx="479.20" cy="405.57" r="1.5" fill="#1d3a85"/>
<circle cx="508.00" cy="386.79" r="1.5" fill="#1d3a85"/>
<text x="7.40" y="498.60" font-size="12" text-anchor="start" font-weight="bold"  style="stroke-width:0.4px">D</text>
<circle cx="58.1" cy="501.7" r="2.3" fill="none" stroke="#1d3a85" stroke-width="1.2"/>
<text x="63.50" y="504.30" font-size="7.8" text-anchor="start" font-weight="normal" textLength="16.8" lengthAdjust="spacingAndGlyphs" style="">shNT</text>
<circle cx="99.3" cy="501.7" r="2.3" fill="none" stroke="#c8143c" stroke-width="1.2"/>
<text x="104.50" y="504.30" font-size="7.8" text-anchor="start" font-weight="normal" textLength="34" lengthAdjust="spacingAndGlyphs" style="">sh<tspan font-style="italic">BCL-W</tspan></text>
<text x="97.70" y="520.60" font-size="10.3" text-anchor="middle" font-weight="normal" textLength="30.81" lengthAdjust="spacingAndGlyphs" style="">Raji-BL</text>
<rect x="55.80" y="538.30" width="9.3" height="83.10" fill="#8f98c2"/>
<rect x="68.70" y="538.30" width="9.3" height="83.10" fill="#d08a7e"/>
<line x1="66.90" y1="621.40" x2="66.90" y2="624.20" stroke="#000" stroke-width="1" />
<rect x="86.30" y="539.00" width="9.3" height="82.40" fill="#8f98c2"/>
<rect x="98.85" y="537.50" width="9.3" height="83.90" fill="#d08a7e"/>
<line x1="97.22" y1="621.40" x2="97.22" y2="624.20" stroke="#000" stroke-width="1" />
<rect x="116.80" y="601.50" width="9.3" height="19.90" fill="#8f98c2"/>
<rect x="129.50" y="598.80" width="9.3" height="22.60" fill="#d08a7e"/>
<line x1="127.80" y1="621.40" x2="127.80" y2="624.20" stroke="#000" stroke-width="1" />
<line x1="50.40" y1="527.20" x2="50.40" y2="622.00" stroke="#000" stroke-width="1.3" />
<line x1="49.80" y1="621.40" x2="143.70" y2="621.40" stroke="#000" stroke-width="1.2" />
<line x1="47.60" y1="621.40" x2="50.40" y2="621.40" stroke="#000" stroke-width="0.9" />
<line x1="48.70" y1="613.09" x2="50.40" y2="613.09" stroke="#000" stroke-width="0.9" />
<line x1="48.70" y1="604.78" x2="50.40" y2="604.78" stroke="#000" stroke-width="0.9" />
<line x1="48.70" y1="596.47" x2="50.40" y2="596.47" stroke="#000" stroke-width="0.9" />
<line x1="48.70" y1="588.16" x2="50.40" y2="588.16" stroke="#000" stroke-width="0.9" />
<line x1="47.60" y1="579.85" x2="50.40" y2="579.85" stroke="#000" stroke-width="0.9" />
<line x1="48.70" y1="571.54" x2="50.40" y2="571.54" stroke="#000" stroke-width="0.9" />
<line x1="48.70" y1="563.23" x2="50.40" y2="563.23" stroke="#000" stroke-width="0.9" />
<line x1="48.70" y1="554.92" x2="50.40" y2="554.92" stroke="#000" stroke-width="0.9" />
<line x1="48.70" y1="546.61" x2="50.40" y2="546.61" stroke="#000" stroke-width="0.9" />
<line x1="47.60" y1="538.30" x2="50.40" y2="538.30" stroke="#000" stroke-width="0.9" />
<text x="44.30" y="624.30" font-size="8.2" text-anchor="end" font-weight="normal"  style="">0.0</text>
<text x="44.30" y="582.75" font-size="8.2" text-anchor="end" font-weight="normal"  style="">0.5</text>
<text x="44.30" y="541.20" font-size="8.2" text-anchor="end" font-weight="normal"  style="">1.0</text>
<text class="cd" transform="translate(27.00,574) rotate(-90)" font-size="9.8" text-anchor="middle" textLength="60" lengthAdjust="spacingAndGlyphs">Proportion live cells</text>
<line x1="121.60" y1="593.40" x2="121.60" y2="609.00" stroke="#1d3a85" stroke-width="1" />
<line x1="119.60" y1="593.40" x2="123.60" y2="593.40" stroke="#1d3a85" stroke-width="1" />
<line x1="119.60" y1="609.00" x2="123.60" y2="609.00" stroke="#1d3a85" stroke-width="1" />
<line x1="134.10" y1="591.40" x2="134.10" y2="606.20" stroke="#c8143c" stroke-width="1" />
<line x1="132.10" y1="591.40" x2="136.10" y2="591.40" stroke="#c8143c" stroke-width="1" />
<line x1="132.10" y1="606.20" x2="136.10" y2="606.20" stroke="#c8143c" stroke-width="1" />
<circle cx="57.50" cy="538.40" r="2.0" fill="#fff" stroke="#1d3a85" stroke-width="1.05"/>
<circle cx="60.45" cy="538.40" r="2.0" fill="#fff" stroke="#1d3a85" stroke-width="1.05"/>
<circle cx="63.40" cy="538.40" r="2.0" fill="#fff" stroke="#1d3a85" stroke-width="1.05"/>
<circle cx="70.40" cy="538.40" r="2.0" fill="#fff" stroke="#c8143c" stroke-width="1.05"/>
<circle cx="73.35" cy="538.40" r="2.0" fill="#fff" stroke="#c8143c" stroke-width="1.05"/>
<circle cx="76.30" cy="538.40" r="2.0" fill="#fff" stroke="#c8143c" stroke-width="1.05"/>
<circle cx="87.70" cy="540.40" r="2.0" fill="#fff" stroke="#1d3a85" stroke-width="1.05"/>
<circle cx="90.80" cy="536.90" r="2.0" fill="#fff" stroke="#1d3a85" stroke-width="1.05"/>
<circle cx="94.00" cy="539.00" r="2.0" fill="#fff" stroke="#1d3a85" stroke-width="1.05"/>
<circle cx="100.80" cy="538.50" r="2.0" fill="#fff" stroke="#c8143c" stroke-width="1.05"/>
<circle cx="103.70" cy="537.00" r="2.0" fill="#fff" stroke="#c8143c" stroke-width="1.05"/>
<circle cx="106.50" cy="536.50" r="2.0" fill="#fff" stroke="#c8143c" stroke-width="1.05"/>
<circle cx="118.40" cy="594.40" r="2.0" fill="#fff" stroke="#1d3a85" stroke-width="1.05"/>
<circle cx="124.10" cy="598.50" r="2.0" fill="#fff" stroke="#1d3a85" stroke-width="1.05"/>
<circle cx="121.60" cy="609.60" r="2.0" fill="#fff" stroke="#1d3a85" stroke-width="1.05"/>
<circle cx="134.10" cy="591.40" r="2.0" fill="#fff" stroke="#c8143c" stroke-width="1.05"/>
<circle cx="134.10" cy="596.40" r="2.0" fill="#fff" stroke="#c8143c" stroke-width="1.05"/>
<circle cx="134.10" cy="606.20" r="2.0" fill="#fff" stroke="#c8143c" stroke-width="1.05"/>
<text transform="translate(71.00,631.50) rotate(-45)" font-size="8.6" text-anchor="end">DMSO</text>
<text transform="translate(101.50,631.50) rotate(-45)" font-size="8.6" text-anchor="end">ABT-737</text>
<text transform="translate(132.00,631.50) rotate(-45)" font-size="8.6" text-anchor="end">S63845</text>
<text class="cd" x="97.00" y="666.80" font-size="9.3" text-anchor="middle" textLength="56" lengthAdjust="spacingAndGlyphs"  >Treatment (5 µM)</text>
<text x="268.90" y="520.60" font-size="10.3" text-anchor="middle" font-weight="normal" textLength="44.40" lengthAdjust="spacingAndGlyphs" style="">Ramos-BL</text>
<rect x="227.00" y="538.30" width="9.3" height="83.10" fill="#8f98c2"/>
<rect x="239.90" y="538.30" width="9.3" height="83.10" fill="#d08a7e"/>
<line x1="238.10" y1="621.40" x2="238.10" y2="624.20" stroke="#000" stroke-width="1" />
<rect x="257.50" y="569.00" width="9.3" height="52.40" fill="#8f98c2"/>
<rect x="270.05" y="569.50" width="9.3" height="51.90" fill="#d08a7e"/>
<line x1="268.43" y1="621.40" x2="268.43" y2="624.20" stroke="#000" stroke-width="1" />
<rect x="288.00" y="577.60" width="9.3" height="43.80" fill="#8f98c2"/>
<rect x="300.70" y="577.60" width="9.3" height="43.80" fill="#d08a7e"/>
<line x1="299.00" y1="621.40" x2="299.00" y2="624.20" stroke="#000" stroke-width="1" />
<line x1="221.60" y1="527.20" x2="221.60" y2="622.00" stroke="#000" stroke-width="1.3" />
<line x1="221.00" y1="621.40" x2="314.90" y2="621.40" stroke="#000" stroke-width="1.2" />
<line x1="218.80" y1="621.40" x2="221.60" y2="621.40" stroke="#000" stroke-width="0.9" />
<line x1="219.90" y1="613.09" x2="221.60" y2="613.09" stroke="#000" stroke-width="0.9" />
<line x1="219.90" y1="604.78" x2="221.60" y2="604.78" stroke="#000" stroke-width="0.9" />
<line x1="219.90" y1="596.47" x2="221.60" y2="596.47" stroke="#000" stroke-width="0.9" />
<line x1="219.90" y1="588.16" x2="221.60" y2="588.16" stroke="#000" stroke-width="0.9" />
<line x1="218.80" y1="579.85" x2="221.60" y2="579.85" stroke="#000" stroke-width="0.9" />
<line x1="219.90" y1="571.54" x2="221.60" y2="571.54" stroke="#000" stroke-width="0.9" />
<line x1="219.90" y1="563.23" x2="221.60" y2="563.23" stroke="#000" stroke-width="0.9" />
<line x1="219.90" y1="554.92" x2="221.60" y2="554.92" stroke="#000" stroke-width="0.9" />
<line x1="219.90" y1="546.61" x2="221.60" y2="546.61" stroke="#000" stroke-width="0.9" />
<line x1="218.80" y1="538.30" x2="221.60" y2="538.30" stroke="#000" stroke-width="0.9" />
<text x="215.50" y="624.30" font-size="8.2" text-anchor="end" font-weight="normal"  style="">0.0</text>
<text x="215.50" y="582.75" font-size="8.2" text-anchor="end" font-weight="normal"  style="">0.5</text>
<text x="215.50" y="541.20" font-size="8.2" text-anchor="end" font-weight="normal"  style="">1.0</text>
<text class="cd" transform="translate(198.20,574) rotate(-90)" font-size="9.8" text-anchor="middle" textLength="60" lengthAdjust="spacingAndGlyphs">Proportion live cells</text>
<line x1="292.60" y1="574.50" x2="292.60" y2="581.00" stroke="#1d3a85" stroke-width="1" />
<line x1="290.60" y1="574.50" x2="294.60" y2="574.50" stroke="#1d3a85" stroke-width="1" />
<line x1="290.60" y1="581.00" x2="294.60" y2="581.00" stroke="#1d3a85" stroke-width="1" />
<line x1="305.90" y1="571.30" x2="305.90" y2="583.00" stroke="#c8143c" stroke-width="1" />
<line x1="303.90" y1="571.30" x2="307.90" y2="571.30" stroke="#c8143c" stroke-width="1" />
<line x1="303.90" y1="583.00" x2="307.90" y2="583.00" stroke="#c8143c" stroke-width="1" />
<circle cx="228.70" cy="538.40" r="2.0" fill="#fff" stroke="#1d3a85" stroke-width="1.05"/>
<circle cx="231.65" cy="538.40" r="2.0" fill="#fff" stroke="#1d3a85" stroke-width="1.05"/>
<circle cx="234.60" cy="538.40" r="2.0" fill="#fff" stroke="#1d3a85" stroke-width="1.05"/>
<circle cx="241.60" cy="538.40" r="2.0" fill="#fff" stroke="#c8143c" stroke-width="1.05"/>
<circle cx="244.55" cy="538.40" r="2.0" fill="#fff" stroke="#c8143c" stroke-width="1.05"/>
<circle cx="247.50" cy="538.40" r="2.0" fill="#fff" stroke="#c8143c" stroke-width="1.05"/>
<circle cx="259.50" cy="564.30" r="2.0" fill="#fff" stroke="#1d3a85" stroke-width="1.05"/>
<circle cx="264.60" cy="567.20" r="2.0" fill="#fff" stroke="#1d3a85" stroke-width="1.05"/>
<circle cx="259.50" cy="571.30" r="2.0" fill="#fff" stroke="#1d3a85" stroke-width="1.05"/>
<circle cx="272.40" cy="565.80" r="2.0" fill="#fff" stroke="#c8143c" stroke-width="1.05"/>
<circle cx="277.60" cy="569.80" r="2.0" fill="#fff" stroke="#c8143c" stroke-width="1.05"/>
<circle cx="272.30" cy="573.60" r="2.0" fill="#fff" stroke="#c8143c" stroke-width="1.05"/>
<circle cx="290.00" cy="574.70" r="2.0" fill="#fff" stroke="#1d3a85" stroke-width="1.05"/>
<circle cx="295.50" cy="576.50" r="2.0" fill="#fff" stroke="#1d3a85" stroke-width="1.05"/>
<circle cx="292.60" cy="581.30" r="2.0" fill="#fff" stroke="#1d3a85" stroke-width="1.05"/>
<circle cx="302.40" cy="571.30" r="2.0" fill="#fff" stroke="#c8143c" stroke-width="1.05"/>
<circle cx="308.00" cy="575.90" r="2.0" fill="#fff" stroke="#c8143c" stroke-width="1.05"/>
<circle cx="305.90" cy="583.10" r="2.0" fill="#fff" stroke="#c8143c" stroke-width="1.05"/>
<text transform="translate(242.00,631.50) rotate(-45)" font-size="8.6" text-anchor="end">DMSO</text>
<text transform="translate(272.50,631.50) rotate(-45)" font-size="8.6" text-anchor="end">ABT-737</text>
<text transform="translate(279.10,637.50) rotate(-45)" font-size="8.6" text-anchor="end">(5 µM)</text>
<text transform="translate(303.00,631.50) rotate(-45)" font-size="8.6" text-anchor="end">S63845</text>
<text transform="translate(309.60,637.50) rotate(-45)" font-size="8.6" text-anchor="end">(0.1 µM)</text>
<text class="cd" x="268.20" y="672.60" font-size="9.3" text-anchor="middle" textLength="29.4" lengthAdjust="spacingAndGlyphs"  >Treatment</text>
<text x="440.15" y="520.60" font-size="10.3" text-anchor="middle" font-weight="normal" textLength="12.53" lengthAdjust="spacingAndGlyphs" style="">HT</text>
<rect x="398.25" y="538.30" width="9.3" height="83.10" fill="#8f98c2"/>
<rect x="411.15" y="538.30" width="9.3" height="83.10" fill="#d08a7e"/>
<line x1="409.35" y1="621.40" x2="409.35" y2="624.20" stroke="#000" stroke-width="1" />
<rect x="428.75" y="539.50" width="9.3" height="81.90" fill="#8f98c2"/>
<rect x="441.30" y="540.00" width="9.3" height="81.40" fill="#d08a7e"/>
<line x1="439.68" y1="621.40" x2="439.68" y2="624.20" stroke="#000" stroke-width="1" />
<rect x="459.25" y="592.30" width="9.3" height="29.10" fill="#8f98c2"/>
<rect x="471.95" y="596.30" width="9.3" height="25.10" fill="#d08a7e"/>
<line x1="470.25" y1="621.40" x2="470.25" y2="624.20" stroke="#000" stroke-width="1" />
<line x1="392.85" y1="527.20" x2="392.85" y2="622.00" stroke="#000" stroke-width="1.3" />
<line x1="392.25" y1="621.40" x2="486.15" y2="621.40" stroke="#000" stroke-width="1.2" />
<line x1="390.05" y1="621.40" x2="392.85" y2="621.40" stroke="#000" stroke-width="0.9" />
<line x1="391.15" y1="613.09" x2="392.85" y2="613.09" stroke="#000" stroke-width="0.9" />
<line x1="391.15" y1="604.78" x2="392.85" y2="604.78" stroke="#000" stroke-width="0.9" />
<line x1="391.15" y1="596.47" x2="392.85" y2="596.47" stroke="#000" stroke-width="0.9" />
<line x1="391.15" y1="588.16" x2="392.85" y2="588.16" stroke="#000" stroke-width="0.9" />
<line x1="390.05" y1="579.85" x2="392.85" y2="579.85" stroke="#000" stroke-width="0.9" />
<line x1="391.15" y1="571.54" x2="392.85" y2="571.54" stroke="#000" stroke-width="0.9" />
<line x1="391.15" y1="563.23" x2="392.85" y2="563.23" stroke="#000" stroke-width="0.9" />
<line x1="391.15" y1="554.92" x2="392.85" y2="554.92" stroke="#000" stroke-width="0.9" />
<line x1="391.15" y1="546.61" x2="392.85" y2="546.61" stroke="#000" stroke-width="0.9" />
<line x1="390.05" y1="538.30" x2="392.85" y2="538.30" stroke="#000" stroke-width="0.9" />
<text x="386.75" y="624.30" font-size="8.2" text-anchor="end" font-weight="normal"  style="">0.0</text>
<text x="386.75" y="582.75" font-size="8.2" text-anchor="end" font-weight="normal"  style="">0.5</text>
<text x="386.75" y="541.20" font-size="8.2" text-anchor="end" font-weight="normal"  style="">1.0</text>
<text class="cd" transform="translate(369.45,574) rotate(-90)" font-size="9.8" text-anchor="middle" textLength="60" lengthAdjust="spacingAndGlyphs">Proportion live cells</text>
<line x1="446.00" y1="538.70" x2="446.00" y2="544.80" stroke="#c8143c" stroke-width="1" />
<line x1="444.00" y1="538.70" x2="448.00" y2="538.70" stroke="#c8143c" stroke-width="1" />
<line x1="444.00" y1="544.80" x2="448.00" y2="544.80" stroke="#c8143c" stroke-width="1" />
<line x1="476.70" y1="587.10" x2="476.70" y2="594.00" stroke="#c8143c" stroke-width="1" />
<line x1="474.70" y1="587.10" x2="478.70" y2="587.10" stroke="#c8143c" stroke-width="1" />
<line x1="474.70" y1="594.00" x2="478.70" y2="594.00" stroke="#c8143c" stroke-width="1" />
<circle cx="399.95" cy="538.40" r="2.0" fill="#fff" stroke="#1d3a85" stroke-width="1.05"/>
<circle cx="402.90" cy="538.40" r="2.0" fill="#fff" stroke="#1d3a85" stroke-width="1.05"/>
<circle cx="405.85" cy="538.40" r="2.0" fill="#fff" stroke="#1d3a85" stroke-width="1.05"/>
<circle cx="412.85" cy="538.40" r="2.0" fill="#fff" stroke="#c8143c" stroke-width="1.05"/>
<circle cx="415.80" cy="538.40" r="2.0" fill="#fff" stroke="#c8143c" stroke-width="1.05"/>
<circle cx="418.75" cy="538.40" r="2.0" fill="#fff" stroke="#c8143c" stroke-width="1.05"/>
<circle cx="430.20" cy="541.00" r="2.0" fill="#fff" stroke="#1d3a85" stroke-width="1.05"/>
<circle cx="433.30" cy="537.20" r="2.0" fill="#fff" stroke="#1d3a85" stroke-width="1.05"/>
<circle cx="436.30" cy="540.20" r="2.0" fill="#fff" stroke="#1d3a85" stroke-width="1.05"/>
<circle cx="442.90" cy="538.70" r="2.0" fill="#fff" stroke="#c8143c" stroke-width="1.05"/>
<circle cx="449.20" cy="538.70" r="2.0" fill="#fff" stroke="#c8143c" stroke-width="1.05"/>
<circle cx="446.00" cy="544.80" r="2.0" fill="#fff" stroke="#c8143c" stroke-width="1.05"/>
<circle cx="460.20" cy="592.60" r="2.0" fill="#fff" stroke="#1d3a85" stroke-width="1.05"/>
<circle cx="463.60" cy="590.00" r="2.0" fill="#fff" stroke="#1d3a85" stroke-width="1.05"/>
<circle cx="466.80" cy="592.60" r="2.0" fill="#fff" stroke="#1d3a85" stroke-width="1.05"/>
<circle cx="473.40" cy="594.00" r="2.0" fill="#fff" stroke="#c8143c" stroke-width="1.05"/>
<circle cx="479.80" cy="594.00" r="2.0" fill="#fff" stroke="#c8143c" stroke-width="1.05"/>
<circle cx="476.70" cy="587.10" r="2.0" fill="#fff" stroke="#c8143c" stroke-width="1.05"/>
<text transform="translate(413.50,631.50) rotate(-45)" font-size="8.6" text-anchor="end">DMSO</text>
<text transform="translate(444.00,631.50) rotate(-45)" font-size="8.6" text-anchor="end">ABT-737</text>
<text transform="translate(474.50,631.50) rotate(-45)" font-size="8.6" text-anchor="end">S63845</text>
<text class="cd" x="439.45" y="666.80" font-size="9.3" text-anchor="middle" textLength="56" lengthAdjust="spacingAndGlyphs"  >Treatment (5 µM)</text>
</g></svg>
</body></html>
